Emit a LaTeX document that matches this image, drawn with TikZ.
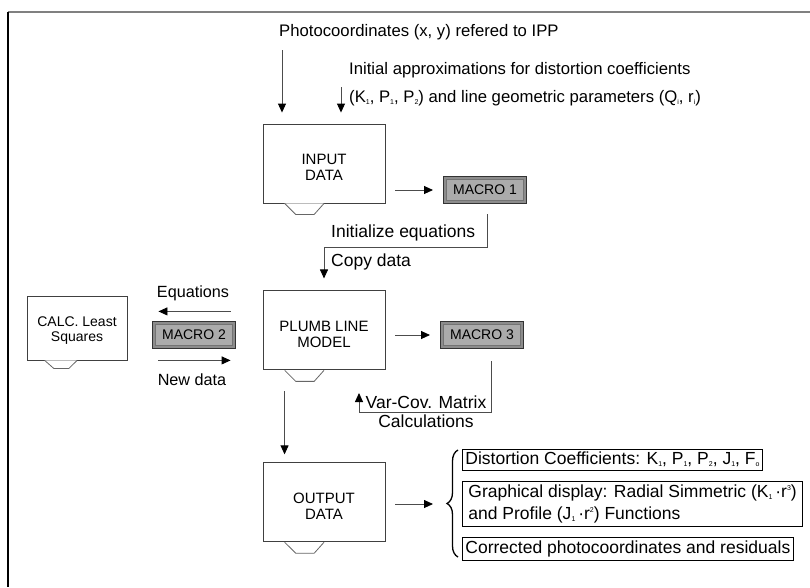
\documentclass[tikz,border=0pt]{standalone}
\usepackage{fontspec}
\setmainfont{Liberation Sans}
\usetikzlibrary{arrows.meta,positioning,calc,decorations.pathreplacing}
\newcommand{\subx}[1]{\raisebox{-2pt}{\fontsize{7}{7}\selectfont #1}}
\newcommand{\supx}[1]{\raisebox{7pt}{\fontsize{7}{7}\selectfont #1}}
\newcommand{\blocktext}[2][6pt]{\raisebox{-#1}[\height][\depth]{\begin{tabular}{@{}c@{}}#2\end{tabular}}}

\begin{document}
\begin{tikzpicture}[x=1pt,y=-1pt,>={Triangle[length=9pt,width=8pt,black]}]
\tikzstyle{block}=[rectangle,draw=black!75,line width=0.9pt,fill=white,
minimum width=122pt,minimum height=79pt,
font=\fontsize{15}{16}\selectfont]
\tikzstyle{macro}=[rectangle,draw=black!80,line width=1pt,fill=black!45,
minimum width=83pt,minimum height=27pt,font=\fontsize{14}{15}\selectfont,
path picture={\draw[black!55,fill=black!33,line width=0.8pt]
([shift={(3pt,-3pt)}]path picture bounding box.north west) rectangle
([shift={(-3pt,3pt)}]path picture bounding box.south east);}]
\tikzstyle{txt}=[align=left,inner sep=0pt,font=\fontsize{17.5}{19}\selectfont]
\tikzstyle{result}=[draw=black,line width=0.8pt,anchor=west,align=left,
inner sep=3pt,font=\fontsize{17.5}{22}\selectfont]
\tikzstyle{conn}=[draw=black!70,line width=0.9pt]

\useasboundingbox (0,0) rectangle (810,587);
% frame
\draw[gray,line width=1.5pt] (8,12) -- (810,12);
\draw[black,line width=1.5pt] (8,12) -- (8,587);

% blocks
\node[block] at (324,163.5) (inp) {\blocktext{INPUT\\DATA}};
\node[block,below=87pt of inp] (plm) {\blocktext{PLUMB LINE\\MODEL}};
\node[block,below=92pt of plm] (out) {\blocktext{OUTPUT\\DATA}};
\node[block,minimum width=100pt,minimum height=64pt,
font=\fontsize{14}{15}\selectfont] at (77,328) (lsq) {\blocktext[2.5pt]{CALC. Least\\Squares}};
\foreach \n/\h in {inp/11,plm/11,out/11,lsq/8}
\draw[black!60,line width=0.8pt,fill=white]
($(\n.south west)!.18!(\n.south east)$) --
($(\n.south west)!.27!(\n.south east)+(0,\h)$) --
($(\n.south west)!.42!(\n.south east)+(0,\h)$) --
($(\n.south west)!.5!(\n.south east)$);

\node[macro] at (485,190) (mac1) {MACRO 1};
\node[macro] at (194,335) (mac2) {MACRO 2};
\node[macro] at (482,335) (mac3) {MACRO 3};

% inputs
\node[txt,anchor=west,font=\fontsize{16.7}{18}\selectfont] at (279,32) (photo)
{Photocoordinates (x, y) refered to IPP};
\node[txt,anchor=west,font=\fontsize{16.7}{28}\selectfont] at (349,84) (init)
{Initial approximations for distortion coefficients\\(K\subx{1}, P\subx{1}, P\subx{2}) and line geometric parameters (Q\subx{i}, r\subx{i})};
\coordinate (p0) at (282,50);
\coordinate (i0) at (341,87);
\draw[conn,->,shorten >=11pt] (p0) -- (p0 |- inp.north);
\draw[conn,->,shorten >=11pt] (i0) -- (i0 |- inp.north);

\draw[conn,->,shorten <=10pt,shorten >=10pt] (inp.east |- mac1.west) -- (mac1.west);
\coordinate (mid1) at ($(inp.south)!.5!(plm.north)$);
\draw[conn,->,shorten >=12pt] ([xshift=2pt,yshift=-10pt]mac1.south) |- (mid1) -- (plm.north);
\node[txt,anchor=west] at (331,233) (initeq) {Initialize equations};
\node[txt,anchor=west] at (331,262) (copy) {Copy data};

% least squares loop
\draw[conn,->,shorten <=32pt,shorten >=31pt] ([yshift=19pt]plm.west) -- ([yshift=19pt]plm.west -| lsq.east);
\draw[conn,->,shorten <=31pt,shorten >=32pt] ([yshift=-30pt]plm.west -| lsq.east) -- ([yshift=-30pt]plm.west);
\node[txt,font=\fontsize{16.2}{18}\selectfont] at (193,293) (eqs) {Equations};
\node[txt,font=\fontsize{16.2}{18}\selectfont] at (192,380) (newd) {New data};

% macro 3
\draw[conn,->,shorten <=10pt,shorten >=10pt] (plm.east |- mac3.west) -- (mac3.west);
\node[txt,align=center] at (426,411.5) (varcov) {Var-Cov. Matrix\\Calculations};
\coordinate (vcc) at (359,412);
\draw[conn,->] ([xshift=9pt,yshift=-12pt]mac3.south) |- (vcc) -- ++(0,-19);

\draw[conn,->,shorten >=8pt] ([xshift=22pt,yshift=-21pt]plm.south west) -- ([xshift=22pt]out.north west);

% output
\coordinate (brt) at (458,450);
\coordinate (brb) at (458,557);
\coordinate (brtip) at (445,504);
\draw[decorate,decoration={brace,amplitude=11pt},line width=1.3pt] (brb) -- (brt);
\draw[conn,->,shorten <=10pt,shorten >=12pt] (out.east |- brtip) -- (brtip);

\node[result] at (462,459.5) (res1) {Distortion Coefficients: K\subx{1}, P\subx{1}, P\subx{2}, J\subx{1}, F\subx{o}};
\node[result,inner xsep=6pt] at (462,504) (res2) {Graphical display: Radial Simmetric (K\subx{1}\,·r\supx{3})\\and Profile (J\subx{1}\,·r\supx{2}) Functions};
\node[result] at (462,549) (res3) {Corrected photocoordinates and residuals};

\end{tikzpicture}
\end{document}
